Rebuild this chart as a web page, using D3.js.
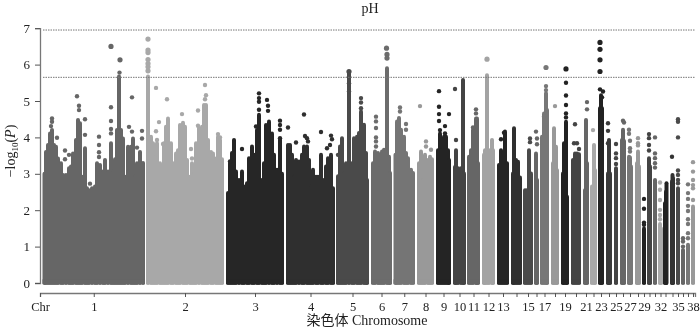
<!DOCTYPE html>
<html>
<head>
<meta charset="utf-8">
<script src="https://cdn.jsdelivr.net/npm/d3@7"></script>
<style>
  html, body { margin: 0; padding: 0; background: #fff; }
  svg { display: block; filter: blur(0.35px); }
  text { font-family: "Liberation Serif", serif; fill: #222; }
</style>
</head>
<body>
<svg id="chart" width="700" height="329"></svg>
<script>
var chrLabels = ["1","2","3","4","5","6","7","8","9","10","11","12","13","","15","","17","","19","","21","","23","","25","","27","","29","","","32","","","35","","","38"];

// start and end of every chromosome on the genome axis
var chrStart = [0.5,104,184,244,294,329,351.5,375,394,411,425,440,455,469,481,492,498,509,519,529,541,548,556,564,572,578,585,593,600,605,611,616,621,628,634,639,644,649];
var chrEnd   = [103,182,242,293,327,350,373,392,409,424,438,453,467,480,491,497,507,517,527,539,547,555,562,570,576,584,591,599,604,610,615,621,626,633,638,643,648,653];

var chrGrey = ["#666","#a8a8a8","#262626","#2f2f2f","#4a4a4a","#6c6c6c","#757575","#999","#242424","#444","#666","#a3a3a3","#252525","#2f2f2f","#4a4a4a","#666","#777","#999","#222","#444","#666","#a8a8a8","#222","#3a3a3a","#444","#666","#777","#999","#222","#444","#666","#aaa","#222","#333","#4a4a4a","#666","#777","#999"];

var thresholds = [6.95, 5.65];
var yTicks = [0,1,2,3,4,5,6,7];

// the solid part of each chromosome: [position, highest -log10(P) of the dense column]
var chrTops = [
  [[2.5,3],[4,3.6],[6,3.79],[8,4.11],[10,4.2],[12,3.79],[14,3.74],[16,3.42],[19,3.29],[21,2.97],[24,2.97],[27,3.15],[29,3.2],[31,3.56],[34,3.93],[36,4.48],[38,4.39],[40,2.92],[43,3.7],[45,2.6],[47,2.55],[50,2.6],[53,2.65],[55,3.29],[58,3.24],[61,3.06],[63,3.38],[66,3.06],[69,3.84],[71,3.06],[73,3.4],[75,4.2],[77,5.67],[79,4.2],[81,3.97],[83,2.92],[86,3.74],[89,3.74],[91,3.97],[93,2.92],[95,3.29],[98,3.6],[101,3.3]],
  [[106,5.67],[109,4.02],[111,3.84],[113,3.47],[115,3.84],[118,3.29],[120,3.15],[122,3.84],[124,4.29],[126,4.52],[129,3.84],[131,3.29],[134,3.56],[136,3.65],[138,4.34],[141,4.4],[143,4.29],[145,3.38],[148,2.92],[150,3.29],[152,3.01],[154,3.84],[157,4.25],[160,4.29],[162,4.89],[164,4.89],[166,3.93],[169,3.6],[171,3.56],[174,3.42],[176,4.02],[178,3.93],[180,3.4]],
  [[186,2.47],[188,3.29],[190,3.57],[192,3.93],[194,3.06],[197,2.83],[200,3.06],[202,2.65],[205,2.74],[207,3.43],[210,3.75],[212,3.52],[215,4.2],[217,4.62],[220,2.83],[222,3.29],[224,4.34],[227,4.44],[230,4.11],[232,3.52],[235,3.11],[238,3.93],[240,3]],
  [[246,3.79],[248,3.79],[250,3.52],[252,2.92],[254,3.38],[257,3.34],[260,3.52],[262,3.75],[265,3.75],[267,3.38],[269,2.65],[271,3.11],[274,2.92],[276,2.92],[279,3.52],[281,2.83],[284,3.2],[286,3.43],[289,3.52],[291,2.6]],
  [[296,2.93],[298,3.75],[300,3.98],[302,3.02],[304,3.29],[307,5.76],[310,3.29],[312,3.98],[315,4.02],[317,4.12],[319,4.71],[322,4.35],[324,3.57],[325,2.83]],
  [[331,3.29],[333,3.61],[336,3.57],[338,3.15],[340,3.61],[342,3.66],[345,5.9],[347,3.47],[348,3.02]],
  [[353.5,3.52],[355,4.44],[357,4.53],[359,4.21],[362,4.02],[364,3.57],[366,3.43],[369,3.11],[371,3.02]],
  [[377,3.29],[379,3.61],[381,2.83],[383,3.52],[386,3.38],[388,3.47],[390,3.4]],
  [[396,3.65],[398,4.11],[400,3.65],[402,4.02],[404,4.02],[406,3.65],[407,3.38]],
  [[413,3.19],[414,3.65],[416,3.15],[419,3.15],[421,5.58],[422,3.01]],
  [[427,3.47],[429,3.65],[431,4.2],[434,4.52],[435,4.52],[436,3.29]],
  [[442,3.52],[443,3.65],[445,5.71],[447,3.65],[450,3.93],[451,3.65]],
  [[457,3.24],[459,3.65],[461,3.56],[463,4.16],[465,3.29]],
  [[471,3.01],[472,4.25],[474,3.38],[476,3.33],[478,2.9]],
  [[483,2.55],[485,2.55],[487,3.65],[489,3.01]],
  [[494,3.56],[495,2.83]],
  [[500,4.02],[502,4.66],[504,5.21],[505,4.75]],
  [[511,3.29],[512,4.25],[514,3.74],[515,3.1]],
  [[521,3.01],[522,3.84],[524,4.43],[525,2.37]],
  [[531,3.38],[533,3.56],[535,3.56],[537,3.54]],
  [[543,2.55],[544,4.48],[545,3.29]],
  [[550,2.65],[552,3.79],[553,3.1]],
  [[558,4.8],[559,5.16],[560,4.8]],
  [[566,3.01],[567,3.93],[568,3.01]],
  [[574,3.15]],
  [[580,3.93],[581,4.21],[582,3.9]],
  [[587,3.47],[588,3.45],[589,3.2]],
  [[595,3.29],[596,3.61],[597,3.2]],
  [[602,1.5]],
  [[607,3.43],[608,3.2]],
  [[613,2.83]],
  [[618,1.62],[619,1.5]],
  [[623,2.19],[624,2.51],[624.5,2.74]],
  [[630,2.79],[630.5,2.97],[631,2.88]],
  [[636,2.6]],
  [[641,0.91]],
  [[646,1.05]],
  [[651,2.1]]
];

// the scattered points standing above the solid part
var chrHits = [
  [[69,6.5],[78,6.13],[77.5,5.78],[35,5.13],[37,4.87],[37,4.75],[43,4.5],[87,4.29],[90,5.1],[69,4.83],[69,4.45],[69,4.23],[69,4.11],[57,4.02],[57,3.79],[57,3.59],[57,3.46],[43,4.07],[15,3.99],[23,3.64],[23,3.4],[27,3.52],[48,2.73],[90,4.16],[100,4.18],[100,3.97],[95,3.72],[10,4.52],[10,4.43],[9,4.31]],
  [[106,6.7],[106,6.4],[106,6.33],[106,6.14],[106,6.03],[106,5.94],[106,5.83],[114,5.36],[125,5.05],[117,4.42],[114,4.17],[140,4.64],[156,4.74],[156,4.32],[163,5.44],[164,5.16],[163,5.05],[149,3.68],[150,3.42],[115,3.93],[121,3.82],[176,4.09],[178,4]],
  [[217,5.21],[217,5.08],[217,4.98],[217,4.76],[225,5.03],[226,4.87],[226,4.73],[238,4.46],[238,4.34],[238,4.21],[238,3.98],[200,3.68],[188,3.34],[214,4.3]],
  [[246,4.27],[262,4.63],[279,4.15],[254,3.86],[263,4.04],[265,3.98],[266,3.89],[289,4.05],[290,3.95],[288,3.79],[285,3.7]],
  [[307,5.81],[307,5.67],[307,5.49],[307,5.26],[319,5.08],[319,4.96],[319,4.8],[296,3.52]],
  [[344.5,6.45],[345,6.28],[345,6.18],[334,4.57],[334,4.44],[334,4.26],[334,4],[334,3.89],[334,3.75]],
  [[358,4.82],[358,4.71],[364,4.37],[364,4.21]],
  [[378,4.86],[384,3.89],[384,3.75],[389,3.66]],
  [[397,5.27],[397,4.84],[397,4.64],[397,4.45],[407,4.64],[403,4.31],[398,4.2],[403,4.11]],
  [[413,5.33],[414,3.93]],
  [[434,4.77],[434,4.66],[431,4.27]],
  [[445,6.15]],
  [[462,4.13],[459,3.95]],
  [],
  [[488,3.97],[488,3.87]],
  [[494,4.16],[495,3.97],[495,3.81]],
  [[504,5.92],[504,5.41],[504,5.3],[502,4.57]],
  [[513,4.86]],
  [[524,5.88],[524,5.5],[524,5.15],[524,4.89],[524,4.66],[524,4.55]],
  [[533,4.36],[532,3.84],[535,3.84],[537,3.68]],
  [[545,4.97],[545,4.77]],
  [[551,4.2]],
  [[558,6.61],[558,6.42],[558,6.13],[558,5.81],[558,5.32],[561,5.26],[560,5.1]],
  [[566,4.39],[566,4.18],[566,3.84]],
  [[574,3.82],[574,3.56],[574,3.43],[574,3.27]],
  [[581,4.46],[582,4.41]],
  [[587,4.21],[587,4.1],[588,3.91],[588,3.7],[588,3.61]],
  [[596,3.98],[596,3.84],[596,3.78]],
  [[602,2.31],[602,2.04],[602,1.66],[602,1.6]],
  [[607,4.09],[607,3.98],[607,3.79],[607,3.64]],
  [[613,4],[613,3.56],[613,3.43],[613,3.29],[613,3.17]],
  [[618,2.76],[618,2.56],[618,2.28],[618,2.01],[618,1.87],[618,1.75]],
  [],
  [[630,3.47]],
  [[636,4.5],[636,4.43],[636,4],[636,3.09],[636,2.97],[636,2.83],[636,2.74]],
  [[641,1.23],[641,1.14],[641,1]],
  [[646,2.71],[646,2.47],[646,2.31],[646,2.12],[646,1.98],[646,1.75],[646,1.62],[646,1.37],[646,1.23]],
  [[651,3.32],[651,3.06],[651,2.83],[651,2.69],[651,2.6],[651,2.28]]
];

var svg = d3.select("#chart");

var x = d3.scaleLinear().domain([-2, 653]).range([40, 695]);
var y = d3.scaleLinear().domain([0, 7]).range([283, 28.2]);

// one group per chromosome, solid columns first and then the loose dots
var chrom = svg.append("g").selectAll("g")
    .data(chrTops)
    .enter().append("g")
    .attr("fill", function(d, i){ return chrGrey[i]; })
    .attr("stroke", function(d, i){ return chrGrey[i]; });

chrom.selectAll("line")
    .data(function(d){ return d; })
    .enter().append("line")
    .attr("x1", function(d){ return x(d[0]); })
    .attr("x2", function(d){ return x(d[0]); })
    .attr("y1", y(0))
    .attr("y2", function(d){ return y(d[1]); })
    .attr("stroke-width", 4)
    .attr("stroke-linecap", "round");

// flat foot so the columns do not scallop along the zero line
chrom.append("rect")
    .attr("x", function(d, i){ return x(chrStart[i]); })
    .attr("width", function(d, i){ return x(chrEnd[i]) - x(chrStart[i]); })
    .attr("y", y(0.1))
    .attr("height", y(0) - y(0.1) + 1.2)
    .attr("stroke", "none");

chrom.selectAll("circle")
    .data(function(d, i){ return chrHits[i]; })
    .enter().append("circle")
    .attr("cx", function(d){ return x(d[0]); })
    .attr("cy", function(d){ return y(d[1]); })
    .attr("r", function(d){ return d[1] > 5.8 ? 2.6 : 2.2; })
    .attr("stroke", "none");

svg.append("g").selectAll("line")
    .data(thresholds)
    .enter().append("line")
    .attr("x1", 43)
    .attr("x2", 695)
    .attr("y1", function(d){ return y(d); })
    .attr("y2", function(d){ return y(d); })
    .attr("stroke", "#777")
    .attr("stroke-width", 1)
    .attr("stroke-dasharray", "1.5,1");

// axes
var yAxis = d3.axisLeft(y).tickValues(yTicks).tickFormat(d3.format("d")).tickSizeOuter(0).tickSize(5).tickPadding(5);
var yG = svg.append("g").attr("transform", "translate(40,0)").call(yAxis);

var mids = chrStart.map(function(s, i){ return (s + chrEnd[i]) / 2; });
var xAxis = d3.axisBottom(x)
    .tickValues([-2].concat(mids))
    .tickFormat(function(d, i){ return i == 0 ? "Chr" : chrLabels[i - 1]; })
    .tickSizeOuter(0).tickSize(4).tickPadding(5);
var xG = svg.append("g").attr("transform", "translate(0,293)").call(xAxis);

[yG, xG].forEach(function(g){
  g.select(".domain").attr("stroke", "#777").attr("stroke-width", 1.3);
  g.selectAll(".tick line").attr("stroke", "#555");
  g.selectAll("text").attr("font-size", 12.5).attr("font-family", "Liberation Serif").attr("fill", "#222");
});
yG.selectAll("text").attr("font-size", 13);

svg.append("text")
    .attr("x", 370).attr("y", 12.5)
    .attr("text-anchor", "middle")
    .attr("font-size", 14)
    .text("pH");

svg.append("text")
    .attr("x", 367).attr("y", 324.5)
    .attr("text-anchor", "middle")
    .attr("font-size", 14)
    .style("font-family", '"Liberation Serif", "Noto Sans CJK SC", serif')
    .text("染色体 Chromosome");

var yLab = svg.append("text")
    .attr("transform", "translate(15,151) rotate(-90)")
    .attr("text-anchor", "middle")
    .attr("font-size", 14);
yLab.append("tspan").text("\u2212log");
yLab.append("tspan").attr("font-size", 9).attr("dy", 3).text("10");
yLab.append("tspan").attr("dy", -3).text("(");
yLab.append("tspan").attr("font-style", "italic").text("P");
yLab.append("tspan").text(")");
</script>
</body>
</html>
